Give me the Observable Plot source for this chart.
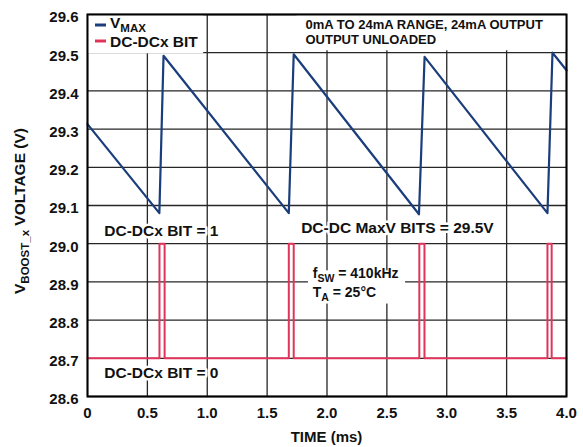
<!DOCTYPE html>
<html><head><meta charset="utf-8">
<script src="https://cdn.jsdelivr.net/npm/d3@7"></script>
<script src="https://cdn.jsdelivr.net/npm/@observablehq/plot@0.6"></script>
<style>
html,body{margin:0;padding:0;background:#fff;}
svg text{font-family:"Liberation Sans",Arial,Helvetica,sans-serif;font-weight:bold;}
</style></head><body><div id="chart"></div>
<script>
// V_MAX trace (time in ms, volts)
const vmaxTime = [0, 0.600, 0.635, 1.681, 1.722, 2.768, 2.815, 3.841, 3.883, 4.0];
const vmaxVolt = [29.313, 29.080, 29.492, 29.080, 29.496, 29.077, 29.489, 29.080, 29.500, 29.454];
// DC-DCx BIT trace (drawn on the voltage axis: 0 -> 28.7, 1 -> 29.0)
const bitTime = [0, 0.601, 0.601, 0.644, 0.644, 1.681, 1.681, 1.722, 1.722, 2.771, 2.771, 2.814, 2.814, 3.841, 3.841, 3.876, 3.876, 4.0];
const bitVolt = [28.7, 28.7, 29.0, 29.0, 28.7, 28.7, 29.0, 29.0, 28.7, 28.7, 29.0, 29.0, 28.7, 28.7, 29.0, 29.0, 28.7, 28.7];
// ticks
const xTicks = [0, 0.5, 1, 1.5, 2, 2.5, 3, 3.5, 4];
const xTickLabels = ["0", "0.5", "1.0", "1.5", "2.0", "2.5", "3.0", "3.5", "4.0"];
const yTicks = [28.6, 28.7, 28.8, 28.9, 29.0, 29.1, 29.2, 29.3, 29.4, 29.5, 29.6];
const yTickLabels = ["28.6", "28.7", "28.8", "28.9", "29.0", "29.1", "29.2", "29.3", "29.4", "29.5", "29.6"];
// texts
const seriesNames = ["MAX", "DC-DCx BIT"];
const noteLines = ["0mA TO 24mA RANGE, 24mA OUTPUT", "OUTPUT UNLOADED"];
const annotTexts = ["DC-DCx BIT = 1", "DC-DC MaxV BITS = 29.5V", "DC-DCx BIT = 0"];
const annotX = [0.14, 1.784, 0.14];
const annotY = [29.032, 29.040, 28.662];

const vmax = vmaxTime.map((t, i) => ({t, v: vmaxVolt[i]}));
const bits = bitTime.map((t, i) => ({t, v: bitVolt[i]}));
const annots = annotTexts.map((text, i) => ({text, x: annotX[i], y: annotY[i]}));
const notes = noteLines.map((text, i) => ({text, x: 1.82, y: [29.573, 29.533][i]}));

const BLUE = "#1a3d7c", RED = "#e0345b", GRID = "#262626";

const chart = Plot.plot({
  width: 583, height: 447,
  marginLeft: 87, marginRight: 17, marginTop: 14, marginBottom: 51,
  style: {fontFamily: "'Liberation Sans', Arial, sans-serif", fontSize: "15px", fontWeight: "bold", color: "#111", background: "#fff"},
  x: {domain: [0, 4]},
  y: {domain: [28.6, 29.6]},
  marks: [
    Plot.ruleX(xTicks, {stroke: GRID, strokeWidth: 1.3}),
    Plot.ruleY(yTicks, {stroke: GRID, strokeWidth: 1.3}),
    Plot.rect([{x1: 0, x2: 0.97, y1: 29.497, y2: 29.6}, {x1: 1.75, x2: 4, y1: 29.505, y2: 29.6}, {x1: 1.845, x2: 2.656, y1: 28.842, y2: 28.929}],
      {x1: "x1", x2: "x2", y1: "y1", y2: "y2", fill: "white"}),
    Plot.line(bits, {x: "t", y: "v", stroke: RED, strokeWidth: 2, curve: "linear"}),
    Plot.line(vmax, {x: "t", y: "v", stroke: BLUE, strokeWidth: 2.2, strokeLinejoin: "round"}),
    Plot.text(annots, {x: "x", y: "y", text: "text", textAnchor: "start", fontSize: 15.5, fill: "#111", stroke: "white", strokeWidth: 5, paintOrder: "stroke", strokeLinejoin: "round"}),
    Plot.text(notes, {x: "x", y: "y", text: "text", textAnchor: "start", fontSize: 13, fill: "#111"}),
    Plot.axisX({ticks: xTicks, tickFormat: d => xTickLabels[xTicks.indexOf(d)], tickSize: 0, tickPadding: 11, fontSize: 15, label: null}),
    Plot.axisY({ticks: yTicks, tickFormat: d => yTickLabels[yTicks.findIndex(v => Math.abs(v - d) < 1e-9)], tickSize: 0, tickPadding: 9, dy: 3, fontSize: 15, label: null}),
    Plot.frame({stroke: "#000", strokeWidth: 2})
  ]
});
document.getElementById("chart").appendChild(chart);

const svg = d3.select(chart);
const X = chart.scale("x"), Y = chart.scale("y");
function rich(sel, parts, size, subSize) {
  let prevSub = false;
  parts.forEach(([txt, sub]) => {
    const ts = sel.append("tspan").text(txt).attr("font-size", sub ? subSize : size);
    if (sub) ts.attr("dy", 4);
    else if (prevSub) ts.attr("dy", -4);
    prevSub = !!sub;
  });
  return sel;
}
// legend
const lg = svg.append("g").attr("text-anchor", "start");
lg.append("line").attr("x1", 95).attr("x2", 106).attr("y1", 25).attr("y2", 25).attr("stroke", BLUE).attr("stroke-width", 3);
lg.append("line").attr("x1", 95).attr("x2", 106).attr("y1", 41).attr("y2", 41).attr("stroke", RED).attr("stroke-width", 3);
rich(lg.append("text").attr("x", 110).attr("y", 27.5).attr("fill", "#111"), [["V"], [seriesNames[0], true]], 15.5, 11.5);
lg.append("text").attr("x", 110).attr("y", 46.5).attr("fill", "#111").attr("font-size", 15.5).text(seriesNames[1]);
// f_SW / T_A note
const fx = X.apply(1.885);
const ng = svg.append("g").attr("text-anchor", "start");
rich(ng.append("text").attr("x", fx).attr("y", 277.5).attr("fill", "#111"), [["f"], ["SW", true], [" = 410kHz"]], 14, 10.5);
rich(ng.append("text").attr("x", fx).attr("y", 296.5).attr("fill", "#111"), [["T"], ["A", true], [" = 25°C"]], 14, 10.5);
// axis titles
rich(svg.append("text").attr("transform", "translate(25,211) rotate(-90)").attr("text-anchor", "middle").attr("fill", "#111"),
  [["V"], ["BOOST_x", true], [" VOLTAGE (V)"]], 15.5, 11.5);
svg.append("text").attr("x", X.apply(2)).attr("y", 442).attr("text-anchor", "middle").attr("fill", "#111").attr("font-size", 15).text("TIME (ms)");
</script></body></html>
